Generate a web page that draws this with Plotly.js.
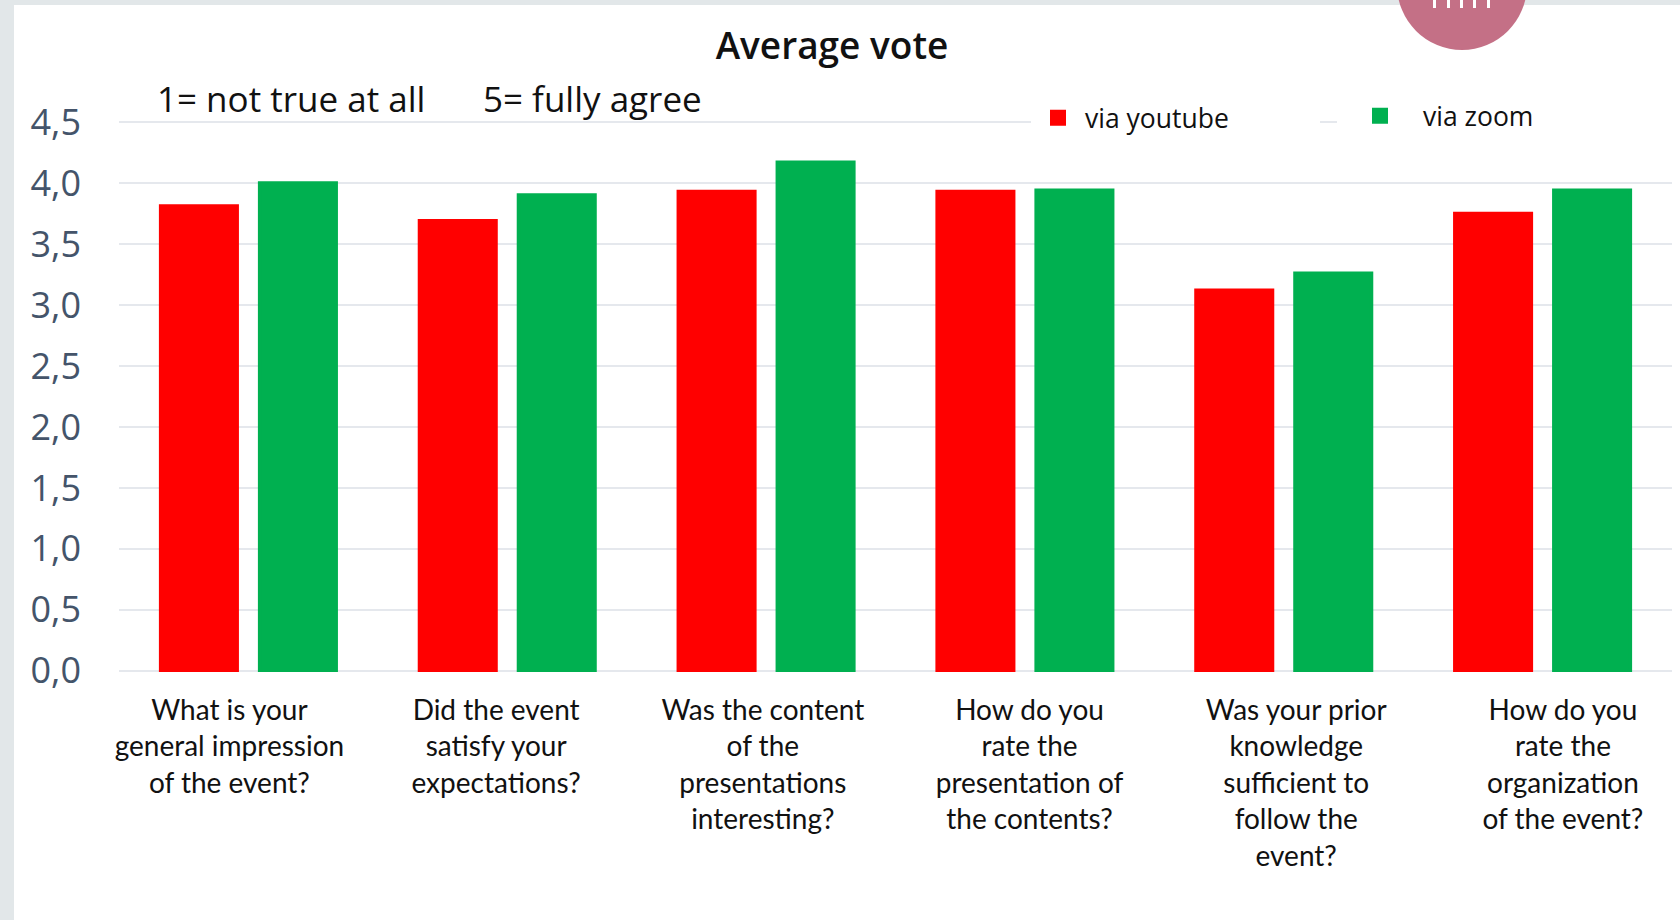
<!DOCTYPE html>
<html>
<head>
<meta charset="utf-8">
<script src="https://cdn.plot.ly/plotly-3.0.1.min.js"></script>
<style>
  html, body { margin: 0; padding: 0; width: 1680px; height: 920px; overflow: hidden; background: #e2e7e9; }
  #chart { position: absolute; left: 14px; top: 5px; width: 1666px; height: 915px; background: #ffffff; }
  #badge { position: absolute; left: 1397px; top: -80px; width: 130px; height: 130px; border-radius: 50%; background: #c47086; z-index: 5; overflow: hidden; }
  #badge span { position: absolute; top: 80px; width: 3px; height: 8px; background: #ffffff; }
</style>
</head>
<body>
<div id="chart"></div>
<div id="badge"><span style="left:36px"></span><span style="left:50px"></span><span style="left:63px"></span><span style="left:76px"></span><span style="left:90px"></span></div>
<script>
// ---- data ----
const categories = [
  "What is your<br>general impression<br>of the event?",
  "Did the event<br>satisfy your<br>expectations?",
  "Was the content<br>of the<br>presentations<br>interesting?",
  "How do you<br>rate the<br>presentation of<br>the contents?",
  "Was your prior<br>knowledge<br>sufficient to<br>follow the<br>event?",
  "How do you<br>rate the<br>organization<br>of the event?"
];
const youtubeValues = [3.81, 3.69, 3.93, 3.93, 3.12, 3.75];
const zoomValues    = [4.00, 3.90, 4.17, 3.94, 3.26, 3.94];
const seriesNames = ["via youtube", "via zoom"];
const seriesColors = ["#ff0000", "#00b050"];
const yTickValues = [0, 0.5, 1, 1.5, 2, 2.5, 3, 3.5, 4, 4.5];
const titleText = "Average vote";
const noteLeft = "1= not true at all";
const noteRight = "5= fully agree";

const labelFont = "Lato, 'Open Sans', sans-serif";
const sansFont = "'Open Sans', sans-serif";

// plot box in page pixels (for placing decorations)
const boxTop = 121.3, boxBottom = 671.9, boxLeft = 119, boxRight = 1672;
const py = p => (boxBottom - p) / (boxBottom - boxTop);
const px = p => (p - boxLeft) / (boxRight - boxLeft);
const cx = p => (p - 14) / 1666;
const cy = p => 1 - (p - 5) / 915;

const categoryIndex = categories.map((c, i) => i);

const traces = [
  { type: "bar", name: seriesNames[0], x: categories, y: youtubeValues, legend: "legend",
    marker: { color: seriesColors[0], line: { color: seriesColors[0], width: 4 } }, hoverinfo: "y" },
  { type: "bar", name: seriesNames[1], x: categories, y: zoomValues, legend: "legend2",
    marker: { color: seriesColors[1], line: { color: seriesColors[1], width: 4 } }, hoverinfo: "y" },
  // carrier for the category label axis (draws nothing)
  { type: "scatter", mode: "markers", x: categoryIndex, y: categoryIndex.map(() => null),
    xaxis: "x2", yaxis: "y", showlegend: false, hoverinfo: "skip", marker: { opacity: 0 } }
];

const layout = {
  width: 1666, height: 915,
  margin: { l: 105, r: 8, t: 116.3, b: 248.1, pad: 0, autoexpand: false },
  paper_bgcolor: "#ffffff", plot_bgcolor: "#ffffff",
  separators: ",.",
  barmode: "group", bargap: 0.235, bargroupgap: 0.232,
  title: { text: titleText, x: cx(832), xref: "container", xanchor: "center", y: 1, yref: "container", yanchor: "top", pad: { t: 28 },
           font: { family: sansFont, size: 37, weight: 600, color: "#111111" } },
  showlegend: true,
  legend: { orientation: "h", xref: "container", x: cx(1031), xanchor: "left",
            yref: "container", y: cy(118), yanchor: "middle", itemwidth: 44,
            bgcolor: "rgba(255,255,255,1)", borderwidth: 0, entrywidth: 230, entrywidthmode: "pixels",
            font: { family: sansFont, size: 26.5, color: "#111111" } },
  legend2: { orientation: "h", xref: "container", x: cx(1337), xanchor: "left",
            yref: "container", y: cy(116), yanchor: "middle", itemwidth: 76,
            bgcolor: "rgba(255,255,255,1)", borderwidth: 0, entrywidth: 262, entrywidthmode: "pixels",
            font: { family: sansFont, size: 26.5, color: "#111111" } },
  xaxis: { type: "category", showgrid: false, zeroline: false, showline: false, ticks: "",
           showticklabels: false },
  xaxis2: { type: "linear", overlaying: "x", anchor: "y", side: "bottom", range: [-0.414, 5.409],
            tickvals: categoryIndex, ticktext: categories,
            showgrid: false, zeroline: false, showline: false, ticks: "",
            tickangle: 0, ticklabelstandoff: 19,
            tickfont: { family: labelFont, size: 28, color: "#111111" } },
  yaxis: { range: [-0.01, 4.51], tickvals: yTickValues, tickformat: ".1f", showline: false, ticks: "",
           zeroline: false, showgrid: true, gridcolor: "#e5e8ed", gridwidth: 2,
           ticklabelstandoff: 37,
           tickfont: { family: sansFont, size: 36, color: "#44546a" } },
  annotations: [
    { text: noteLeft, xref: "paper", yref: "paper", x: px(155), y: py(98.6),
      xanchor: "left", yanchor: "middle", showarrow: false,
      font: { family: sansFont, size: 35, color: "#111111" } },
    { text: noteRight, xref: "paper", yref: "paper", x: px(481), y: py(98.6),
      xanchor: "left", yanchor: "middle", showarrow: false,
      font: { family: sansFont, size: 35, color: "#111111" } }
  ]
};

Plotly.newPlot("chart", traces, layout, { displayModeBar: false, staticPlot: true });
</script>
</body>
</html>
